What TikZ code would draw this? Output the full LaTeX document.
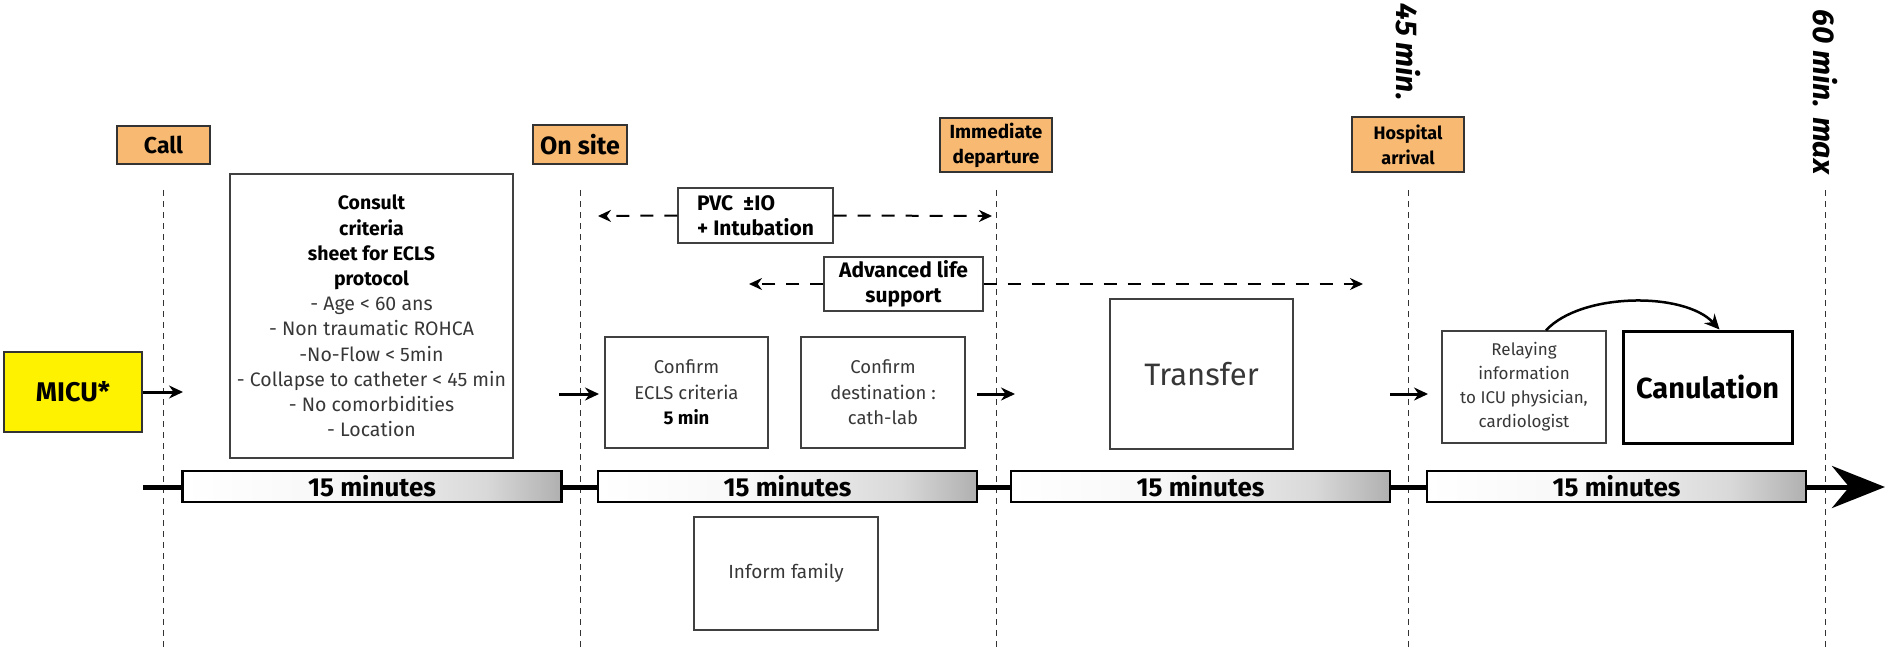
\documentclass[tikz,border=0pt]{standalone}
\usepackage{fontspec}
\setmainfont{Fira Sans}
\usetikzlibrary{arrows.meta}

\definecolor{tagorange}{RGB}{248,186,115}
\definecolor{micuyellow}{RGB}{255,242,0}
\definecolor{boxtext}{RGB}{55,55,55}
\pgfdeclarehorizontalshading{barshade}{100bp}{color(0bp)=(white); color(25bp)=(white); color(45bp)=(gray!6); color(65bp)=(gray!30); color(75bp)=(gray!62); color(100bp)=(gray!62)}
\newcommand{\keytext}[1]{\textcolor{black}{\bfseries #1}}

\begin{document}
\begin{tikzpicture}[x=1pt,y=-1pt,
  tag/.style={draw=black!80, line width=1.5pt, fill=tagorange, align=center, inner sep=0pt, font=\bfseries\fontsize{19}{25}\selectfont},
  info/.style={draw=black!75, line width=1.3pt, align=center, inner sep=0pt, text=boxtext, font=\fontsize{18.5}{25.5}\selectfont},
  period/.style={draw=black, line width=2.5pt, shading=barshade, minimum width=379pt, minimum height=31pt, inner sep=0pt, font=\bfseries\fontsize{26}{26}\selectfont},
  guide/.style={black!80, line width=1pt, dash pattern=on 6pt off 5pt},
  go/.style={-{Stealth[length=14pt,width=13pt]}, line width=3pt},
  span/.style={-{Stealth[length=13pt,width=12pt]}, line width=2pt, dash pattern=on 13pt off 11pt},
  limit/.style={rotate=-90, inner sep=0pt, font=\bfseries\itshape\fontsize{30}{30}\selectfont}]
\useasboundingbox (0,0) rectangle (1885,653);

\foreach \x in {163,580,996,1408,1825}
  \draw[guide] (\x,190) -- (\x,650);

\node[limit] (t45) at (1408,52) {45 min.};
\node[limit] (t60) at (1825,92) {60 min. max};

\node[tag, minimum width=93pt, minimum height=38pt, font=\bfseries\fontsize{23}{24}\selectfont] (call) at (163.5,145) {Call};
\node[tag, minimum width=94pt, minimum height=39pt, font=\bfseries\fontsize{25}{25}\selectfont] (onsite) at (580,144.5) {On site};
\node[tag, minimum width=112pt, minimum height=54pt] (depart) at (996,145) {Immediate\\departure};
\node[tag, minimum width=112pt, minimum height=55pt, font=\bfseries\fontsize{18}{25}\selectfont] (arrival) at (1408,144.5) {Hospital\\arrival};

\node[draw=black!80, line width=1.5pt, fill=micuyellow, minimum width=138pt, minimum height=80pt, font=\bfseries\fontsize{27}{27}\selectfont] (micu) at (73,392) {MICU*};

\node[info, minimum width=283pt, minimum height=284pt, font=\fontsize{19.5}{25.2}\selectfont] (consult) at (371.5,316)
  {\keytext{Consult}\\\keytext{criteria}\\\keytext{sheet for ECLS}\\\keytext{protocol}\\
   - Age < 60 ans\\- Non traumatic ROHCA\\-No-Flow < 5min\\- Collapse to catheter < 45 min\\
   - No comorbidities\\- Location};

\node[info, align=left, minimum width=155pt, minimum height=55pt, text=black, font=\bfseries\fontsize{21}{25}\selectfont] (pvc) at (755.5,215.5) {PVC~~±IO\\+ Intubation};
\node[info, minimum width=159pt, minimum height=54pt, text=black, font=\bfseries\fontsize{21}{25}\selectfont] (als) at (903.5,284) {Advanced life\\support};

\node[info, minimum width=163pt, minimum height=111pt] (ecls) at (686.5,392.5) {Confirm\\ECLS criteria\\\keytext{5 min}};
\node[info, minimum width=164pt, minimum height=111pt] (dest) at (883,392.5) {Confirm\\destination :\\cath-lab};
\node[info, minimum width=183pt, minimum height=150pt, font=\fontsize{31}{31}\selectfont] (transfer) at (1201.5,374) {Transfer};
\node[info, minimum width=164pt, minimum height=112pt, font=\fontsize{17}{24}\selectfont] (relay) at (1524,387) {Relaying\\information\\to ICU physician,\\cardiologist};
\node[info, line width=3pt, draw=black, text=black, minimum width=169pt, minimum height=112pt, font=\bfseries\fontsize{29}{29}\selectfont] (canul) at (1707.5,387) {Canulation};
\node[info, minimum width=184pt, minimum height=113pt, font=\fontsize{19}{25}\selectfont] (family) at (786,573.5) {Inform family};

\draw[line width=5pt, -{Stealth[length=53pt,width=42pt]}] (143,487) -- (1885,487);
\node[period] (q1) at (372,486.5) {15 minutes};
\node[period] (q2) at (787.5,486.5) {15 minutes};
\node[period] (q3) at (1200.5,486.5) {15 minutes};
\node[period] (q4) at (1616.5,486.5) {15 minutes};

\coordinate (in1) at (183,392);
\coordinate (out2) at (559,394);
\coordinate (in2) at (599,394);
\coordinate (out3) at (977,394);
\coordinate (in3) at (1015,394);
\coordinate (out4) at (1390,394);
\coordinate (in4) at (1428,394);
\draw[go] (micu.east) -- (in1);
\draw[go] (out2) -- (in2);
\draw[go] (out3) -- (in3);
\draw[go] (out4) -- (in4);

\coordinate (pvcl) at (598,216);
\coordinate (pvcr) at (992,216);
\coordinate (alsl) at (749,284);
\coordinate (alsr) at (1363,284);
\draw[span] (pvc.west) -- (pvcl);
\draw[span] (pvc.east) -- (pvcr);
\draw[span] (als.west) -- (alsl);
\draw[span] (als.east) -- (alsr);

\draw[-{Stealth[length=15pt,width=14pt]}, line width=2.5pt] ([xshift=22pt]relay.north) .. controls +(35,-38) and +(-35,-38) .. ([xshift=12pt]canul.north);
\end{tikzpicture}
\end{document}
